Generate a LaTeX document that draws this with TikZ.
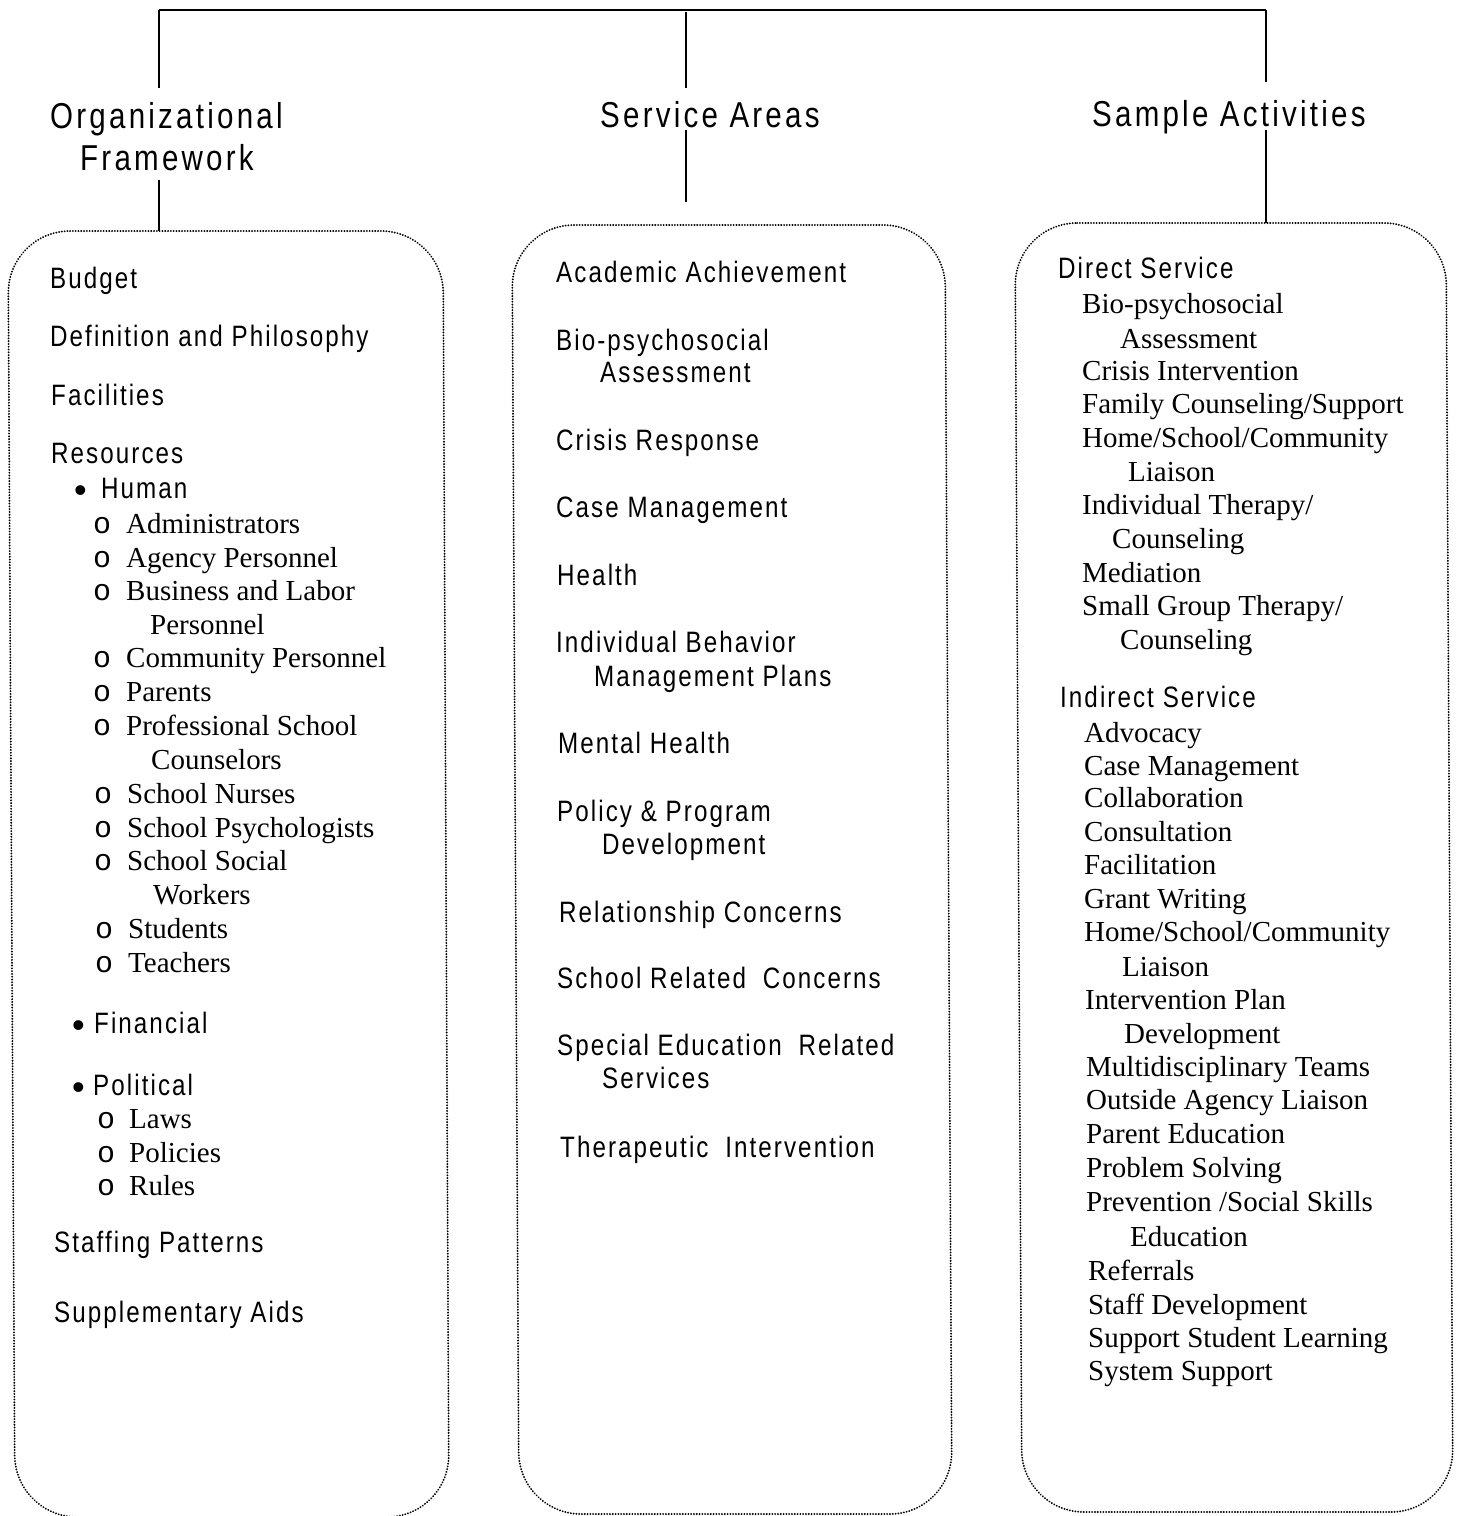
\documentclass[tikz,border=0pt]{standalone}
\usepackage{fontspec}
\setmainfont{Liberation Serif}
\newfontfamily\sansf[FakeStretch=0.82,LetterSpace=7]{Liberation Sans}
\newfontfamily\headf[FakeStretch=0.82,LetterSpace=9]{Liberation Sans}
\newfontfamily\monof{Liberation Mono}
\newfontfamily\bulf{Liberation Sans}
\newcommand{\bul}[2]{\makebox[#1][l]{\raisebox{-4pt}{\bulf\fontsize{36}{34}\selectfont •}}#2}
\newcommand{\cir}[2]{\makebox[#1][l]{\monof\fontsize{30}{34}\selectfont o}#2}
\begin{document}
\begin{tikzpicture}[x=1pt,y=-1pt,
  sa/.style={inner sep=0pt,anchor=base west,font=\sansf\fontsize{29.5}{34}\selectfont},
  se/.style={inner sep=0pt,anchor=base west,font=\fontsize{29}{34}\selectfont},
  hd/.style={inner sep=0pt,anchor=base west,align=left,font=\headf\fontsize{36}{42}\selectfont},
  boxline/.style={draw,line width=2pt,dash pattern=on 0.1pt off 2.7pt,line cap=round,rounded corners=62pt},
  conn/.style={line width=2pt}]
\useasboundingbox (0,0) rectangle (1457,1516);

% headers
\node[hd] (hL) at (50,170) {Organizational\\\hspace*{30pt}Framework};
\node[hd] (hM) at (600,127) {Service Areas};
\node[hd] (hR) at (1092,126) {Sample Activities};

% bracket coordinates
\coordinate (tL) at (159,10);
\coordinate (tM) at (686,12);
\coordinate (tR) at (1266,10);
\coordinate (aL) at (159,88);
\coordinate (aM) at (686,88);
\coordinate (aR) at (1266,82);
\coordinate (bL) at (159,180);
\coordinate (bM) at (686,130);
\coordinate (bR) at (1266,130);
\coordinate (cL) at (159,231);
\coordinate (cM) at (686,202);
\coordinate (cR) at (1266,223);

\draw[conn] (tL) -- (tR);
\draw[conn] (tL) -- (aL);
\draw[conn] (tM) -- (aM);
\draw[conn] (tR) -- (aR);
\draw[conn] (bL) -- (cL);
\draw[conn] (bM) -- (cM);
\draw[conn] (bR) -- (cR);

% boxes
\path[boxline] (8,231) -- (443,231) -- (449,1517) -- (15,1517) -- cycle;
\path[boxline] (512,225) -- (945,225) -- (952,1514) -- (519,1514) -- cycle;
\path[boxline] (1015,223) -- (1446,223) -- (1453,1512) -- (1022,1512) -- cycle;

% left column
\node[sa] (l1) at (50,288) {Budget};
\node[sa] (l2) at (50,346) {Definition and Philosophy};
\node[sa] (l3) at (51,405) {Facilities};
\node[sa] (l4) at (51,463) {Resources};
\node[sa] (l5) at (74,498) {\bul{27pt}{Human}};
\node[se] (l6) at (93,533) {\cir{33pt}{Administrators}};
\node[se] (l7) at (93,567) {\cir{33pt}{Agency Personnel}};
\node[se] (l8) at (93,600) {\cir{33pt}{Business and Labor}};
\node[se] (l9) at (150,634) {Personnel};
\node[se] (l10) at (93,667) {\cir{33pt}{Community Personnel}};
\node[se] (l11) at (93,701) {\cir{33pt}{Parents}};
\node[se] (l12) at (93,735) {\cir{33pt}{Professional School}};
\node[se] (l13) at (151,769) {Counselors};
\node[se] (l14) at (94,803) {\cir{33pt}{School Nurses}};
\node[se] (l15) at (94,837) {\cir{33pt}{School Psychologists}};
\node[se] (l16) at (94,870) {\cir{33pt}{School Social}};
\node[se] (l17) at (153,904) {Workers};
\node[se] (l18) at (95,938) {\cir{33pt}{Students}};
\node[se] (l19) at (95,972) {\cir{33pt}{Teachers}};
\node[sa] (l20) at (72,1033) {\bul{22pt}{Financial}};
\node[sa] (l21) at (72,1095) {\bul{21pt}{Political}};
\node[se] (l22) at (97,1128) {\cir{32pt}{Laws}};
\node[se] (l23) at (97,1162) {\cir{32pt}{Policies}};
\node[se] (l24) at (97,1195) {\cir{32pt}{Rules}};
\node[sa] (l25) at (54,1252) {Staffing Patterns};
\node[sa] (l26) at (54,1322) {Supplementary Aids};

% middle column
\node[sa] (m1) at (556,282) {Academic Achievement};
\node[sa] (m2) at (556,350) {Bio-psychosocial};
\node[sa] (m3) at (600,382) {Assessment};
\node[sa] (m4) at (556,450) {Crisis Response};
\node[sa] (m5) at (556,517) {Case Management};
\node[sa] (m6) at (557,585) {Health};
\node[sa] (m7) at (556,652) {Individual Behavior};
\node[sa] (m8) at (594,686) {Management Plans};
\node[sa] (m9) at (558,753) {Mental Health};
\node[sa] (m10) at (557,821) {Policy \& Program};
\node[sa] (m11) at (602,854) {Development};
\node[sa] (m12) at (559,922) {Relationship Concerns};
\node[sa] (m13) at (557,988) {School Related\hspace{8pt} Concerns};
\node[sa] (m14) at (557,1055) {Special Education\hspace{8pt} Related};
\node[sa] (m15) at (602,1088) {Services};
\node[sa] (m16) at (560,1157) {Therapeutic\hspace{8pt} Intervention};

% right column
\node[sa] (r1) at (1058,278) {Direct Service};
\node[se] (r2) at (1082,313) {Bio-psychosocial};
\node[se] (r3) at (1120,348) {Assessment};
\node[se] (r4) at (1082,380) {Crisis Intervention};
\node[se] (r5) at (1082,413) {Family Counseling/Support};
\node[se] (r6) at (1082,447) {Home/School/Community};
\node[se] (r7) at (1128,481) {Liaison};
\node[se] (r8) at (1082,514) {Individual Therapy/};
\node[se] (r9) at (1112,548) {Counseling};
\node[se] (r10) at (1082,582) {Mediation};
\node[se] (r11) at (1082,615) {Small Group Therapy/};
\node[se] (r12) at (1120,649) {Counseling};
\node[sa] (r13) at (1060,707) {Indirect Service};
\node[se] (r14) at (1084,742) {Advocacy};
\node[se] (r15) at (1084,775) {Case Management};
\node[se] (r16) at (1084,807) {Collaboration};
\node[se] (r17) at (1084,841) {Consultation};
\node[se] (r18) at (1084,874) {Facilitation};
\node[se] (r19) at (1084,908) {Grant Writing};
\node[se] (r20) at (1084,941) {Home/School/Community};
\node[se] (r21) at (1122,976) {Liaison};
\node[se] (r22) at (1085,1009) {Intervention Plan};
\node[se] (r23) at (1124,1043) {Development};
\node[se] (r24) at (1086,1076) {Multidisciplinary Teams};
\node[se] (r25) at (1086,1109) {Outside Agency Liaison};
\node[se] (r26) at (1086,1143) {Parent Education};
\node[se] (r27) at (1086,1177) {Problem Solving};
\node[se] (r28) at (1086,1211) {Prevention /Social Skills};
\node[se] (r29) at (1130,1246) {Education};
\node[se] (r30) at (1088,1280) {Referrals};
\node[se] (r31) at (1088,1314) {Staff Development};
\node[se] (r32) at (1088,1347) {Support Student Learning};
\node[se] (r33) at (1088,1380) {System Support};
\end{tikzpicture}
\end{document}
